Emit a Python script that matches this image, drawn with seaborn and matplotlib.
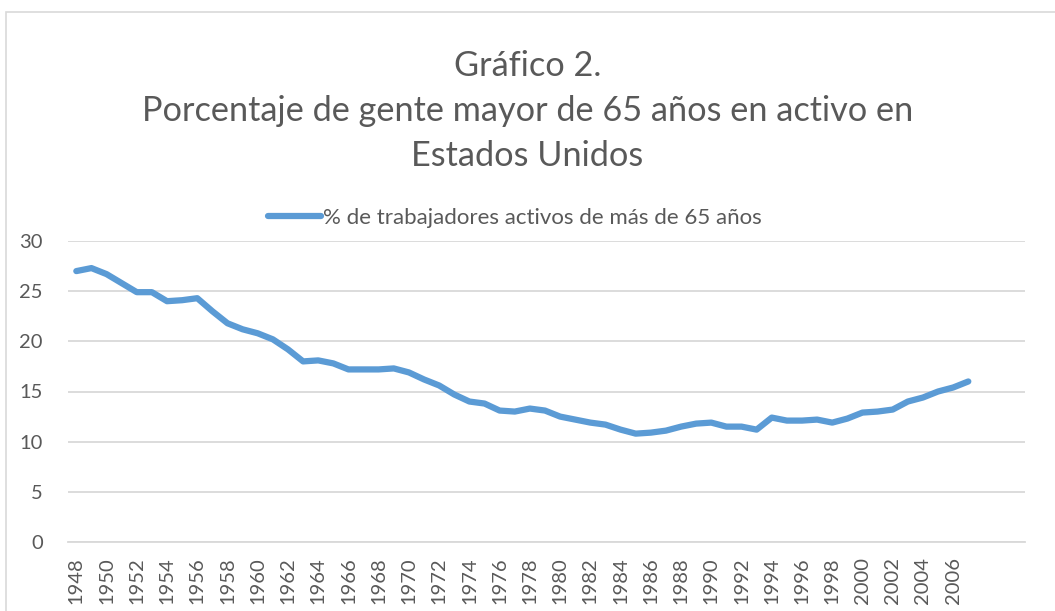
"""
Gráfico 2: porcentaje de gente mayor de 65 años en activo en EE.UU.
Line chart redrawn with seaborn
"""

import numpy as np
import pandas as pd
import matplotlib
matplotlib.use("Agg")
import matplotlib.pyplot as plt
from matplotlib.patches import Rectangle
import seaborn as sns

# Data
years = list(range(1948, 2008))
pct_over_65 = [
    27.0, 27.3, 26.7, 25.8, 24.9, 24.9, 24.0, 24.1, 24.3, 23.0,
    21.8, 21.2, 20.8, 20.2, 19.2, 18.0, 18.1, 17.8, 17.2, 17.2,
    17.2, 17.3, 16.9, 16.2, 15.6, 14.7, 14.0, 13.8, 13.1, 13.0,
    13.3, 13.1, 12.5, 12.2, 11.9, 11.7, 11.2, 10.8, 10.9, 11.1,
    11.5, 11.8, 11.9, 11.5, 11.5, 11.2, 12.4, 12.1, 12.1, 12.2,
    11.9, 12.3, 12.9, 13.0, 13.2, 14.0, 14.4, 15.0, 15.4, 16.0,
]
tick_years = list(range(1948, 2007, 2))
y_ticks = [0, 5, 10, 15, 20, 25, 30]

series_name = "% de trabajadores activos de más de 65 años"
title = "Gráfico 2.\nPorcentaje de gente mayor de 65 años en activo en\nEstados Unidos"

df = pd.DataFrame({"year": years, "pct": pct_over_65, "serie": series_name})

# Style
sns.set_theme(style="white")
plt.rcParams["font.family"] = ["Lato", "DejaVu Sans"]
text_grey = "#595959"
line_blue = "#5B9BD5"
grid_grey = "#D9D9D9"

fig = plt.figure(figsize=(10.55, 6.11), dpi=100)
ax = fig.add_axes([68 / 1055, 1 - 542 / 611, (1025 - 68) / 1055, (542 - 241) / 611])

sns.lineplot(data=df, x="year", y="pct", hue="serie", palette=[line_blue],
             linewidth=4.5, ax=ax, solid_capstyle="round", solid_joinstyle="round")

ax.set_xlim(1947.45, 2010.75)
ax.set_ylim(0, 30)
ax.set_yticks(y_ticks)
ax.set_xticks(tick_years)
ax.set_xticklabels([str(y) for y in tick_years], rotation=90)
ax.tick_params(axis="x", labelsize=14.5, colors=text_grey, length=0, pad=11)
ax.tick_params(axis="y", labelsize=14.5, colors=text_grey, length=0, pad=18)
ax.set_xlabel("")
ax.set_ylabel("")

# horizontal gridlines only
ax.yaxis.grid(True, color=grid_grey, linewidth=1.3)
ax.xaxis.grid(False)
ax.set_axisbelow(True)
for side in ["top", "right", "left"]:
    ax.spines[side].set_visible(False)
ax.spines["bottom"].set_color(grid_grey)
ax.spines["bottom"].set_linewidth(1.3)

# legend above the plot area
handles, labels = ax.get_legend_handles_labels()
ax.legend(handles, labels, loc="center", bbox_to_anchor=(515 / 1055, 1 - 218 / 611),
          bbox_transform=fig.transFigure, frameon=False, fontsize=16,
          handlelength=2.4, handletextpad=0.1, labelcolor=text_grey)

fig.text(0.5, 1 - 50 / 611, title, ha="center", va="top", fontsize=24.7,
         color=text_grey, linespacing=1.5)

# light border of the chart area
fig.patches.append(Rectangle((6 / 1055, -0.05), 1.2, 1 - 12 / 611 + 0.05,
                             transform=fig.transFigure, fill=False,
                             edgecolor=grid_grey, linewidth=1.2))

fig.savefig("out.png", dpi=100)
